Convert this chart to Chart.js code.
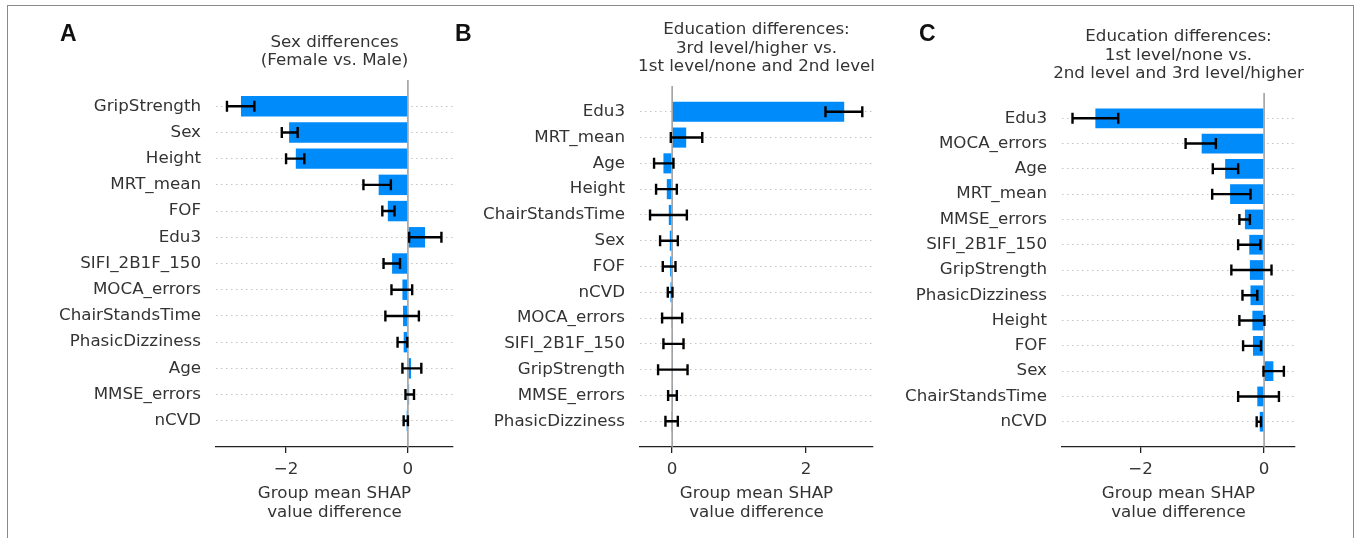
<!DOCTYPE html>
<html>
<head>
<meta charset="utf-8">
<script src="https://cdn.jsdelivr.net/npm/chart.js@4.4.0/dist/chart.umd.min.js"></script>
<style>
  html, body { margin: 0; padding: 0; background: #fff; }
  body { width: 1356px; height: 538px; position: relative; overflow: hidden; }
  .frame { position: absolute; left: 7px; top: 5px; width: 1347px; height: 600px;
           box-sizing: border-box; border: 1.5px solid #8a8a8a; }
  .panel { position: absolute; top: 0; }
  .letter { position: absolute; font: bold 23px "Liberation Sans", Arial, sans-serif;
            line-height: 23px; color: #111; }
</style>
</head>
<body>
<div class="frame"></div>
<canvas id="chartA" class="panel" style="left:0px" width="460" height="538"></canvas>
<canvas id="chartB" class="panel" style="left:460px" width="420" height="538"></canvas>
<canvas id="chartC" class="panel" style="left:880px" width="476" height="538"></canvas>
<div class="letter" style="left:60px;top:22px">A</div>
<div class="letter" style="left:455px;top:22px">B</div>
<div class="letter" style="left:919px;top:22px">C</div>

<script>
// ---- data ----

// A: sex differences
const titleA = ['Sex differences', '(Female vs. Male)'];
const featuresA = ['GripStrength', 'Sex', 'Height', 'MRT_mean', 'FOF', 'Edu3', 'SIFI_2B1F_150',
  'MOCA_errors', 'ChairStandsTime', 'PhasicDizziness', 'Age', 'MMSE_errors', 'nCVD'];
const diffA = [-2.74, -1.95, -1.84, -0.48, -0.33, 0.28, -0.26, -0.09, -0.08, -0.07, 0.05, 0.02, -0.02];
const lowA  = [-2.97, -2.07, -2.00, -0.73, -0.42, 0.02, -0.40, -0.27, -0.37, -0.17, -0.09, -0.04, -0.07];
const highA = [-2.52, -1.81, -1.70, -0.28, -0.22, 0.55, -0.13, 0.07, 0.18, -0.01, 0.22, 0.10, 0.00];
const ticksA = [-2, 0];

// B: 3rd level/higher vs rest
const titleB = ['Education differences:', '3rd level/higher vs.', '1st level/none and 2nd level'];
const featuresB = ['Edu3', 'MRT_mean', 'Age', 'Height', 'ChairStandsTime', 'Sex', 'FOF', 'nCVD',
  'MOCA_errors', 'SIFI_2B1F_150', 'GripStrength', 'MMSE_errors', 'PhasicDizziness'];
const diffB = [2.57, 0.21, -0.13, -0.08, -0.05, -0.035, -0.03, -0.025, -0.005, 0.005, 0.005, 0.005, -0.005];
const lowB  = [2.29, -0.02, -0.27, -0.24, -0.33, -0.18, -0.14, -0.065, -0.15, -0.13, -0.21, -0.06, -0.10];
const highB = [2.84, 0.45, 0.02, 0.07, 0.22, 0.085, 0.05, 0.005, 0.15, 0.17, 0.23, 0.07, 0.085];
const ticksB = [0, 2];

// C: 1st level/none vs rest
const titleC = ['Education differences:', '1st level/none vs.', '2nd level and 3rd level/higher'];
const featuresC = ['Edu3', 'MOCA_errors', 'Age', 'MRT_mean', 'MMSE_errors', 'SIFI_2B1F_150',
  'GripStrength', 'PhasicDizziness', 'Height', 'FOF', 'Sex', 'ChairStandsTime', 'nCVD'];
const diffC = [-2.73, -1.01, -0.63, -0.55, -0.31, -0.24, -0.23, -0.22, -0.19, -0.18, 0.15, -0.11, -0.07];
const lowC  = [-3.10, -1.27, -0.83, -0.84, -0.40, -0.42, -0.53, -0.35, -0.40, -0.34, -0.01, -0.42, -0.12];
const highC = [-2.36, -0.78, -0.42, -0.22, -0.23, -0.06, 0.12, -0.11, 0.005, -0.05, 0.32, 0.24, -0.05];
const ticksC = [-2, 0];

const xTitle = ['Group mean SHAP', 'value difference'];

// ---- style ----
const BLUE = '#008bfb';
const FONT = 'DejaVu Sans';
const FSIZE = 16.7;
const TXT = '#333333';

// zero line, error bars and the panel title (centred on the plot area)
const shapExtras = {
  id: 'shapExtras',
  afterDatasetsDraw(chart, args, opts) {
    const { ctx, chartArea } = chart;
    const xs = chart.scales.x, ys = chart.scales.y;
    ctx.save();

    const x0 = xs.getPixelForValue(0);
    ctx.strokeStyle = '#9a9a9a';
    ctx.lineWidth = 1.5;
    ctx.beginPath();
    ctx.moveTo(x0, chartArea.top);
    ctx.lineTo(x0, chartArea.bottom);
    ctx.stroke();

    ctx.strokeStyle = '#000';
    ctx.lineWidth = 2.4;
    const cap = 5.5;
    opts.low.forEach((lo, i) => {
      const yp = ys.getPixelForValue(i);
      const x1 = xs.getPixelForValue(lo);
      const x2 = xs.getPixelForValue(opts.high[i]);
      ctx.beginPath();
      ctx.moveTo(x1, yp); ctx.lineTo(x2, yp);
      ctx.moveTo(x1, yp - cap); ctx.lineTo(x1, yp + cap);
      ctx.moveTo(x2, yp - cap); ctx.lineTo(x2, yp + cap);
      ctx.stroke();
    });

    // title
    const lh = 18.5, gap = 9.6;
    const n = opts.title.length;
    const cx = (chartArea.left + chartArea.right) / 2;
    ctx.fillStyle = TXT;
    ctx.font = FSIZE + 'px "' + FONT + '"';
    ctx.textAlign = 'center';
    ctx.textBaseline = 'middle';
    opts.title.forEach((line, i) => {
      const yy = chartArea.top - gap - (n - 1 - i) * lh - lh / 2;
      ctx.fillText(line, cx, yy);
    });
    ctx.restore();
  }
};

function buildPanel(id, features, diff, low, high, xTicks, title, lay) {
  return new Chart(document.getElementById(id), {
    type: 'bar',
    data: {
      datasets: [{
        data: diff.map((v, i) => ({ x: v, y: i })),
        backgroundColor: BLUE,
        borderWidth: 0,
        barPercentage: 0.78,
        categoryPercentage: 1
      }]
    },
    options: {
      indexAxis: 'y',
      responsive: false,
      animation: false,
      events: [],
      layout: { padding: { top: lay.top, right: lay.right, left: 0, bottom: 0 } },
      plugins: {
        legend: { display: false },
        tooltip: { enabled: false },
        title: { display: false },
        shapExtras: { low, high, title }
      },
      scales: {
        x: {
          type: 'linear',
          bounds: 'data',
          offset: false,
          min: lay.xmin,
          max: lay.xmax,
          afterBuildTicks: s => { s.ticks = xTicks.map(v => ({ value: v })); },
          afterFit: s => { s.height = 91; },
          grid: { drawOnChartArea: false, drawTicks: true, tickLength: 6, color: '#222', lineWidth: 1.3, offset: false },
          border: { display: true, color: '#222', width: 1.3 },
          ticks: {
            padding: 7,
            color: TXT,
            font: { family: FONT, size: FSIZE },
            callback: v => (v < 0 ? '\u2212' + Math.abs(v) : String(v))
          },
          title: {
            display: true,
            text: xTitle,
            color: TXT,
            font: { family: FONT, size: FSIZE, lineHeight: 18.5 / FSIZE },
            padding: { top: 2, bottom: 16.5 }
          }
        },
        y: {
          type: 'linear',
          bounds: 'data',
          offset: false,
          reverse: true,
          min: -1,
          max: features.length,
          afterBuildTicks: s => { s.ticks = features.map((f, i) => ({ value: i })); },
          afterFit: s => { s.width = lay.yw; },
          grid: { drawTicks: false, color: '#c4c4c4', lineWidth: 1, offset: false },
          border: { display: false, dash: [1.5, 3.5] },
          ticks: {
            autoSkip: false,
            padding: 15,
            color: TXT,
            font: { family: FONT, size: FSIZE },
            callback: (v) => features[v] ?? ''
          }
        }
      }
    },
    plugins: [shapExtras]
  });
}

buildPanel('chartA', featuresA, diffA, lowA, highA, ticksA, titleA,
  { top: 80, right: 7, yw: 216, xmin: -3.15, xmax: 0.74 });
buildPanel('chartB', featuresB, diffB, lowB, highB, ticksB, titleB,
  { top: 86, right: 7, yw: 180, xmin: -0.48, xmax: 3.0 });
buildPanel('chartC', featuresC, diffC, lowC, highC, ticksC, titleC,
  { top: 93, right: 61, yw: 182, xmin: -3.27, xmax: 0.50 });
</script>
</body>
</html>
